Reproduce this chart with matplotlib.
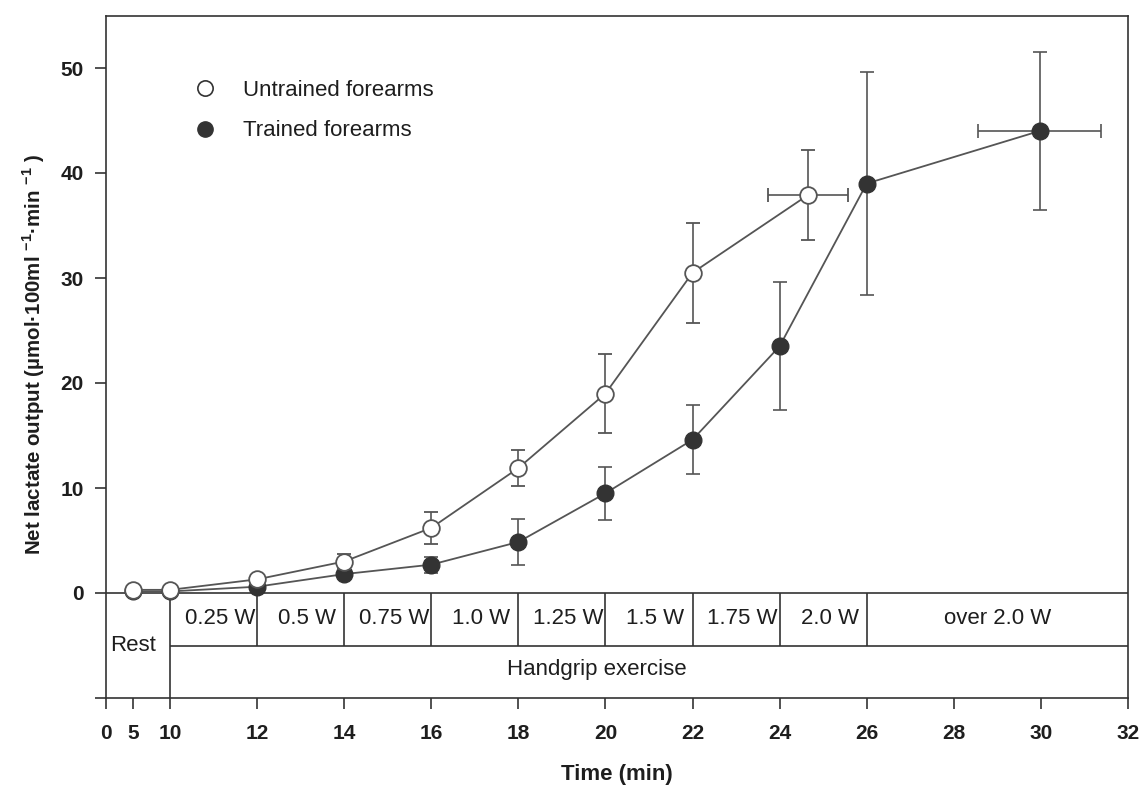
import numpy as np
import matplotlib
matplotlib.use('Agg')
import matplotlib.pyplot as plt
from matplotlib.lines import Line2D

plt.rcParams['font.family'] = ['Liberation Sans', 'DejaVu Sans']
plt.rcParams['mathtext.fontset'] = 'custom'
plt.rcParams['mathtext.rm'] = 'Liberation Sans'
plt.rcParams['mathtext.bf'] = 'Liberation Sans:bold'

# ---------------- data ----------------
untrained_time = [5, 10, 12, 14, 16, 18, 20, 22, 24.65]
untrained_time_err = [0, 0, 0, 0, 0, 0, 0, 0, 0.91]
untrained_lactate = [0.3, 0.3, 1.3, 3.0, 6.2, 11.9, 19.0, 30.5, 37.9]
untrained_sem = [0, 0, 0.3, 0.7, 1.55, 1.7, 3.75, 4.75, 4.3]

trained_time = [5, 10, 12, 14, 16, 18, 20, 22, 24, 26, 29.97]
trained_time_err = [0, 0, 0, 0, 0, 0, 0, 0, 0, 0, 1.42]
trained_lactate = [0.15, 0.15, 0.6, 1.8, 2.7, 4.86, 9.5, 14.6, 23.5, 39.0, 44.0]
trained_sem = [0, 0, 0.2, 0.3, 0.75, 2.15, 2.5, 3.3, 6.1, 10.6, 7.5]

stage_bounds = [10, 12, 14, 16, 18, 20, 22, 24, 26, 32]
stage_labels = ['0.25 W', '0.5 W', '0.75 W', '1.0 W', '1.25 W', '1.5 W',
                '1.75 W', '2.0 W', 'over 2.0 W']

x_ticks = [0, 5, 10, 12, 14, 16, 18, 20, 22, 24, 26, 28, 30, 32]
y_ticks = [-10, 0, 10, 20, 30, 40, 50]
y_ticklabels = ['', '0', '10', '20', '30', '40', '50']

# ---------------- broken x scale ----------------
_bd = np.array([0.0, 5.0, 10.0])
_bp = np.array([0.0, 27.0, 64.0])
_slope = 958.0 / 22.0


def fwd(x):
    x = np.asarray(x, dtype=float)
    return np.where(x < 10, np.interp(x, _bd, _bp), 64.0 + (x - 10.0) * _slope)


def inv(p):
    p = np.asarray(p, dtype=float)
    return np.where(p < 64, np.interp(p, _bp, _bd), 10.0 + (p - 64.0) / _slope)


INK = '#333333'
GRAY = '#555555'
TXT = '#1e1e1e'

fig = plt.figure(figsize=(11.47, 7.85), dpi=100)
ax = fig.add_axes([106 / 1147, 1 - 698 / 785, 1022 / 1147, (698 - 15.5) / 785])
ax.set_xscale('function', functions=(fwd, inv))
ax.set_xlim(0, 32)
ax.set_ylim(-10, 55)

# table structure below zero
ax.hlines(0, 0, 32, color=INK, lw=1.2, zorder=1)
ax.hlines(-5, 10, 32, color=INK, lw=1.2, zorder=1)
ax.vlines(10, -10, 0, color=INK, lw=1.2, zorder=1)
ax.vlines(stage_bounds[1:-1], -5, 0, color=INK, lw=1.2, zorder=1)

for i, lab in enumerate(stage_labels):
    lo, hi = stage_bounds[i], stage_bounds[i + 1]
    xc = (lo + hi) / 2 + (0.15 if hi - lo <= 2 else 0)
    ax.text(xc, -2.4, lab, ha='center', va='center', fontsize=16, color=TXT)
ax.text(5, -5, 'Rest', ha='center', va='center', fontsize=16, color=TXT)
ax.text(19.8, -7.3, 'Handgrip exercise', ha='center', va='center', fontsize=16,
        color=TXT)

# data series
ax.errorbar(trained_time, trained_lactate, yerr=trained_sem, xerr=trained_time_err,
            fmt='o', color=GRAY, ecolor=GRAY, elinewidth=1.2, capsize=5, capthick=1.2,
            ms=12, mfc=INK, mec=INK, ls='-', lw=1.3, zorder=3)
ax.errorbar(untrained_time, untrained_lactate, yerr=untrained_sem,
            xerr=untrained_time_err,
            fmt='o', color=GRAY, ecolor=GRAY, elinewidth=1.2, capsize=5, capthick=1.2,
            ms=12, mfc='white', mec=GRAY, mew=1.3, ls='-', lw=1.3, zorder=4)

# legend
handles = [Line2D([], [], ls='none', marker='o', ms=11, mfc='white', mec=INK, mew=1.2),
           Line2D([], [], ls='none', marker='o', ms=11, mfc=INK, mec=INK)]
ax.legend(handles, ['Untrained forearms', 'Trained forearms'], loc='upper left',
          bbox_to_anchor=(0.0867, 0.906), frameon=False, fontsize=16,
          handlelength=0.95, handletextpad=1.25, borderpad=0, borderaxespad=0,
          labelspacing=0.89, labelcolor=TXT)

# axes styling
for s in ax.spines.values():
    s.set_color(INK)
    s.set_linewidth(1.2)
ax.set_xticks(x_ticks)
ax.set_xticklabels([str(t) for t in x_ticks])
ax.set_yticks(y_ticks)
ax.set_yticklabels(y_ticklabels)
ax.tick_params(axis='both', direction='out', length=8, width=1.2, color=INK,
               labelsize=15, labelcolor=TXT)
ax.tick_params(axis='x', pad=11)
ax.tick_params(axis='y', pad=8)
for lbl in ax.get_xticklabels() + ax.get_yticklabels():
    lbl.set_fontweight('bold')
ax.minorticks_off()

ax.set_xlabel('Time (min)', fontsize=16, fontweight='bold', color=TXT,
              labelpad=15)
ax.set_ylabel(r'Net lactate output (µmol·100ml $^{\mathbf{-1}}$·min $^{\mathbf{-1}}$ )',
              fontsize=14.8, fontweight='bold', color=TXT)
ax.yaxis.set_label_coords(-0.058, 0.503)

fig.savefig('out.png', dpi=100)
